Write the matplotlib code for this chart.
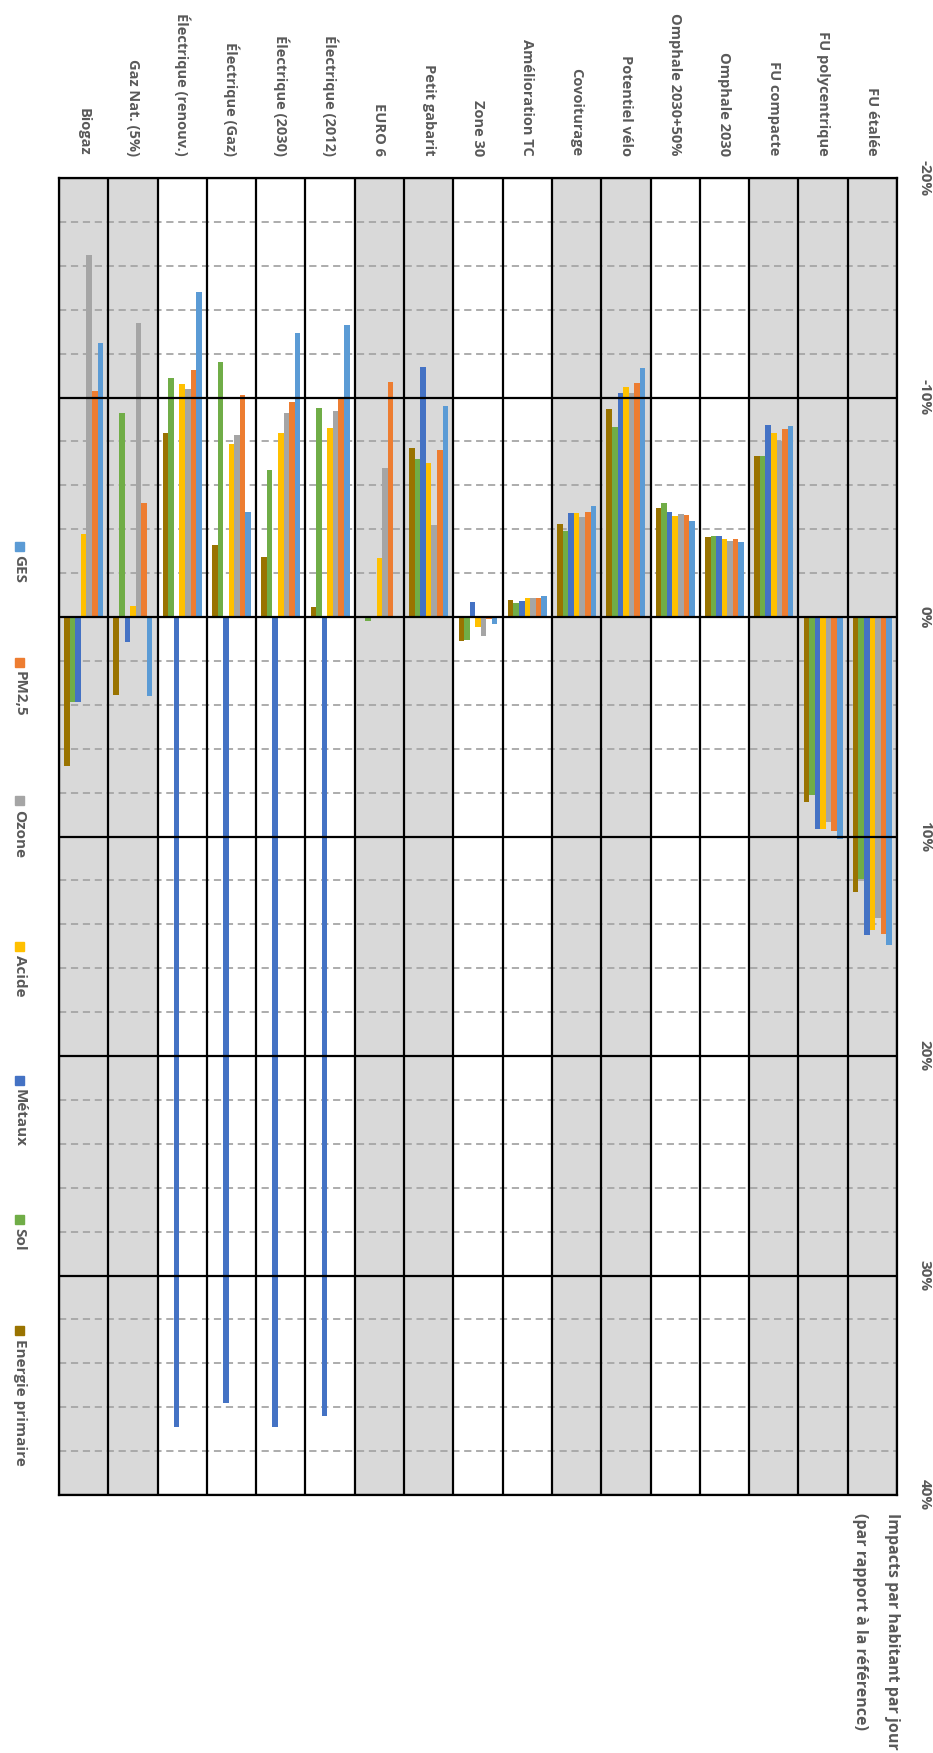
import numpy as np
import matplotlib
matplotlib.use('Agg')
import matplotlib.pyplot as plt
from matplotlib.patches import Rectangle

plt.rcParams['font.family'] = ['Open Sans', 'DejaVu Sans']

# categories, left to right as they appear in the (rotated) chart
categories = ['Biogaz', 'Gaz Nat. (5%)', 'Électrique (renouv.)', 'Électrique (Gaz)',
              'Électrique (2030)', 'Électrique (2012)', 'EURO 6', 'Petit gabarit',
              'Zone 30', 'Amélioration TC', 'Covoiturage', 'Potentiel vélo',
              'Omphale 2030+50%', 'Omphale 2030', 'FU compacte', 'FU polycentrique',
              'FU étalée']
shaded = [True, True, False, False, False, False, True, True,
          False, False, True, True, False, False, True, True, True]

# impacts in % relative to the reference
energie = [6.8, 3.54, -8.4, -3.3, -2.75, -0.47, 0.0, -7.7, 1.1, -0.77, -4.24, -9.46, -4.98, -3.63, -7.33, 8.44, 12.55]
sol = [3.86, -9.3, -10.9, -11.6, -6.7, -9.5, 0.2, -7.2, 1.06, -0.65, -3.9, -8.67, -5.18, -3.69, -7.33, 8.11, 11.94]
metaux = [3.86, 1.12, 36.9, 35.8, 36.9, 36.4, 0.0, -11.4, -0.7, -0.73, -4.75, -10.2, -4.77, -3.69, -8.75, 9.67, 14.49]
acide = [-3.8, -0.5, -10.6, -7.9, -8.4, -8.6, -2.7, -7.0, 0.44, -0.85, -4.75, -10.5, -4.62, -3.54, -8.4, 9.67, 14.26]
ozone = [-16.5, -13.4, -10.4, -8.3, -9.3, -9.4, -6.8, -4.2, 0.85, -0.85, -4.54, -10.2, -4.69, -3.48, -8.0, 9.32, 13.73]
pm25 = [-10.3, -5.2, -11.25, -10.1, -9.8, -10.0, -10.7, -7.6, 0.1, -0.85, -4.8, -10.65, -4.65, -3.57, -8.55, 9.75, 14.46]
ges = [-12.5, 3.61, -14.8, -4.8, -12.95, -13.3, 0.05, -9.6, 0.33, -0.96, -5.06, -11.36, -4.39, -3.4, -8.72, 10.11, 14.94]

# drawing order inside a group (left to right)
series = [('Energie primaire', energie, '#997300'),
          ('Sol', sol, '#70ad47'),
          ('Métaux', metaux, '#4472c4'),
          ('Acide', acide, '#ffc000'),
          ('Ozone', ozone, '#a5a5a5'),
          ('PM2,5', pm25, '#ed7d31'),
          ('GES', ges, '#5b9bd5')]

W, H = 933, 1753
fig = plt.figure(figsize=(W / 100, H / 100), dpi=100)
ax = fig.add_axes([59 / W, 1 - 1495 / H, (897 - 59) / W, (1495 - 178) / H])

x = np.arange(len(categories))
n = len(series)
bw = 0.113
for i, (name, vals, col) in enumerate(series):
    ax.bar(x + (i - (n - 1) / 2) * bw, vals, width=bw, color=col, zorder=3)

# background bands
for k, s in enumerate(shaded):
    if s:
        ax.axvspan(k - 0.5, k + 0.5, color='#d9d9d9', zorder=0, lw=0)

ax.set_xlim(-0.5, len(categories) - 0.5)
ax.set_ylim(40, -20)

# grid: dashed every 2 %, solid every 10 %
for v in np.arange(-20, 41, 2):
    if v % 10:
        ax.axhline(v, color='#a6a6a6', lw=1.3, ls=(0, (4, 2.6)), zorder=1)
    else:
        ax.axhline(v, color='black', lw=1.6, zorder=4)
for k in range(len(categories) + 1):
    ax.axvline(k - 0.5, color='black', lw=1.6, zorder=4)
for sp in ax.spines.values():
    sp.set_linewidth(1.6)

txt = '#595959'
ax.set_xticks(x)
ax.set_xticklabels(categories)
ax.tick_params(axis='x', top=True, bottom=False, labeltop=True, labelbottom=False,
               length=0, pad=16)
plt.setp(ax.get_xticklabels(), rotation=-90, ha='center', va='bottom',
         color=txt, fontsize=10.5, fontweight='bold')

ax.set_yticks(np.arange(-20, 41, 10))
ax.set_yticklabels(['%d%%' % v for v in np.arange(-20, 41, 10)])
ax.tick_params(axis='y', right=True, left=False, labelright=True, labelleft=False,
               length=0, pad=15)
plt.setp(ax.get_yticklabels(), rotation=-90, ha='left', va='center',
         color=txt, fontsize=11, fontweight='bold')

# axis title (bottom right)
fig.text(892 / W, 1 - 1513 / H, 'Impacts par habitant par jour', rotation=-90,
         ha='center', va='top', color=txt, fontsize=11.5, fontweight='bold')
fig.text(860 / W, 1 - 1513 / H, '(par rapport à la référence)', rotation=-90,
         ha='center', va='top', color=txt, fontsize=11.5, fontweight='bold')

# legend drawn by hand along the left edge
legend_y = [546, 662, 801, 946, 1080, 1219, 1330]
for (name, vals, col), yy in zip(series[::-1], legend_y):
    fig.patches.append(Rectangle((15 / W, 1 - (yy + 4.5) / H), 9 / W, 9 / H,
                                 transform=fig.transFigure, color=col))
    fig.text(19.5 / W, 1 - (yy + 9) / H, name, rotation=-90, ha='center', va='top',
             color=txt, fontsize=11, fontweight='bold')

fig.savefig('out.png', dpi=100)
